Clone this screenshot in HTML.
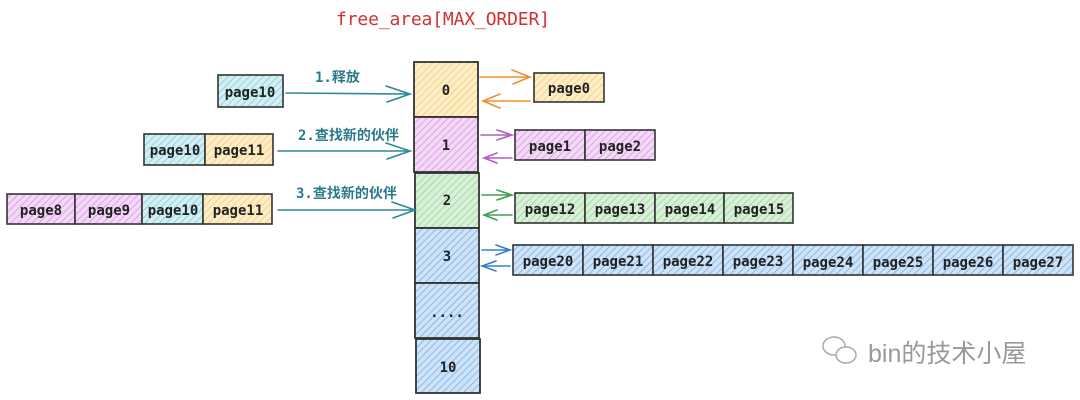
<!DOCTYPE html>
<html><head><meta charset="utf-8"><style>
html,body{margin:0;padding:0;background:#fff;width:1080px;height:400px;overflow:hidden}
text{font-family:"DejaVu Sans Mono","Noto Sans CJK SC",monospace;font-weight:bold;fill:#222}
</style></head><body>
<svg width="1080" height="400" viewBox="0 0 1080 400" xmlns="http://www.w3.org/2000/svg">
<defs>
<pattern id="y" width="5" height="5" patternUnits="userSpaceOnUse" patternTransform="rotate(45)"><rect width="5" height="5" fill="#fdeec8"/><line x1="0" y1="0" x2="0" y2="5" stroke="#f5c66a" stroke-width="1.4"/></pattern>
<pattern id="p" width="5" height="5" patternUnits="userSpaceOnUse" patternTransform="rotate(45)"><rect width="5" height="5" fill="#f3d8f7"/><line x1="0" y1="0" x2="0" y2="5" stroke="#d48ee0" stroke-width="1.4"/></pattern>
<pattern id="g" width="5" height="5" patternUnits="userSpaceOnUse" patternTransform="rotate(45)"><rect width="5" height="5" fill="#d8f0d8"/><line x1="0" y1="0" x2="0" y2="5" stroke="#90d090" stroke-width="1.4"/></pattern>
<pattern id="b" width="5" height="5" patternUnits="userSpaceOnUse" patternTransform="rotate(45)"><rect width="5" height="5" fill="#cfe3f7"/><line x1="0" y1="0" x2="0" y2="5" stroke="#6aa8e6" stroke-width="1.4"/></pattern>
<pattern id="c" width="5" height="5" patternUnits="userSpaceOnUse" patternTransform="rotate(45)"><rect width="5" height="5" fill="#d2eff3"/><line x1="0" y1="0" x2="0" y2="5" stroke="#7cc8d6" stroke-width="1.4"/></pattern>
</defs>
<text x="336" y="25" font-size="18" textLength="214" style="fill:#d03030;font-weight:normal">free_area[MAX_ORDER]</text>

<g stroke="#333" stroke-width="1.8">
<rect x="414" y="62" width="64" height="55" fill="url(#y)"/>
<rect x="414" y="117" width="64" height="55" fill="url(#p)"/>
<rect x="415" y="173" width="64" height="55" fill="url(#g)"/>
<rect x="415" y="228" width="64" height="55" fill="url(#b)"/>
<rect x="415" y="283" width="64" height="55" fill="url(#b)"/>
<rect x="416" y="339" width="64" height="54" fill="url(#b)"/>
</g>
<g font-size="14" text-anchor="middle">
<text x="446" y="95">0</text><text x="446" y="150">1</text><text x="447" y="205">2</text><text x="447" y="261">3</text><text x="447" y="317">....</text><text x="448" y="372">10</text>
</g>

<g stroke="#333" stroke-width="1.6">
<rect x="534" y="73" width="70" height="29" fill="url(#y)"/>
<rect x="515" y="130" width="70" height="30" fill="url(#p)"/>
<rect x="585" y="130" width="70" height="30" fill="url(#p)"/>
<rect x="515" y="193" width="70" height="30" fill="url(#g)"/>
<rect x="585" y="193" width="70" height="30" fill="url(#g)"/>
<rect x="655" y="193" width="69" height="30" fill="url(#g)"/>
<rect x="724" y="193" width="69" height="30" fill="url(#g)"/>
<rect x="513" y="245" width="70" height="30" fill="url(#b)"/>
<rect x="583" y="245" width="70" height="30" fill="url(#b)"/>
<rect x="653" y="245" width="70" height="30" fill="url(#b)"/>
<rect x="723" y="245" width="70" height="30" fill="url(#b)"/>
<rect x="793" y="245" width="70" height="30" fill="url(#b)"/>
<rect x="863" y="245" width="70" height="30" fill="url(#b)"/>
<rect x="933" y="245" width="70" height="30" fill="url(#b)"/>
<rect x="1003" y="245" width="70" height="30" fill="url(#b)"/>

<rect x="218" y="75" width="65" height="32" fill="url(#c)"/>
<rect x="144" y="134" width="61" height="31" fill="url(#c)"/>
<rect x="205" y="134" width="68" height="31" fill="url(#y)"/>
<rect x="7" y="194" width="68" height="30" fill="url(#p)"/>
<rect x="75" y="194" width="67" height="30" fill="url(#p)"/>
<rect x="142" y="194" width="61" height="30" fill="url(#c)"/>
<rect x="203" y="194" width="69" height="30" fill="url(#y)"/>
</g>
<g font-size="14" text-anchor="middle">
<text x="569" y="93">page0</text>
<text x="550" y="151">page1</text><text x="620" y="151">page2</text>
<text x="550" y="214">page12</text><text x="620" y="214">page13</text><text x="690" y="214">page14</text><text x="759" y="214">page15</text>
<text x="548" y="266">page20</text><text x="618" y="266">page21</text><text x="688" y="266">page22</text><text x="758" y="266">page23</text><text x="828" y="267">page24</text><text x="898" y="267">page25</text><text x="968" y="267">page26</text><text x="1038" y="267">page27</text>
<text x="250" y="97">page10</text>
<text x="175" y="155">page10</text><text x="239" y="155">page11</text>
<text x="41" y="215">page8</text><text x="109" y="215">page9</text><text x="173" y="215">page10</text><text x="238" y="215">page11</text>
</g>

<g fill="none" stroke-width="1.6" stroke-linecap="round">
<g stroke="#2a8a9a">
<path d="M286 93 L410 94 M386 86 L410 94 L387 102"/>
<path d="M278 151 L410 151 M386 143 L410 151 L387 159"/>
<path d="M278 210 L415 210 M392 202 L415 210 L393 218"/>
</g>
<g stroke="#f0902a"><path d="M480 77 L530 77 M512 70 L530 77 L513 84 M530 101 L483 101 M500 94 L483 101 L500 108"/></g>
<g stroke="#b060c0"><path d="M481 135 L512 135 M497 130 L512 135 L497 140 M512 158 L484 158 M497 153 L484 158 L497 163"/></g>
<g stroke="#40a050"><path d="M482 195 L512 195 M497 190 L512 195 L497 200 M512 215 L484 215 M497 210 L484 215 L497 220"/></g>
<g stroke="#3a80c8"><path d="M482 250 L510 250 M496 245 L510 250 L496 255 M510 266 L482 266 M496 261 L482 266 L496 271"/></g>
</g>
<g font-size="14">
<text x="315" y="82" style="fill:#2a7a8a">1.释放</text>
<text x="298" y="140" style="fill:#2a7a8a">2.查找新的伙伴</text>
<text x="296" y="198" style="fill:#2a7a8a">3.查找新的伙伴</text>
</g>

<g fill="none" stroke="#aaa" stroke-width="1.5">
<ellipse cx="834" cy="346" rx="11" ry="9"/>
<ellipse cx="846" cy="355" rx="10" ry="8" fill="#fff"/>
</g>
<text x="868" y="362" font-size="25" style="fill:#999;font-weight:normal;font-family:'Liberation Sans','Noto Sans CJK SC',sans-serif">bin的技术小屋</text>
</svg>
</body></html>
